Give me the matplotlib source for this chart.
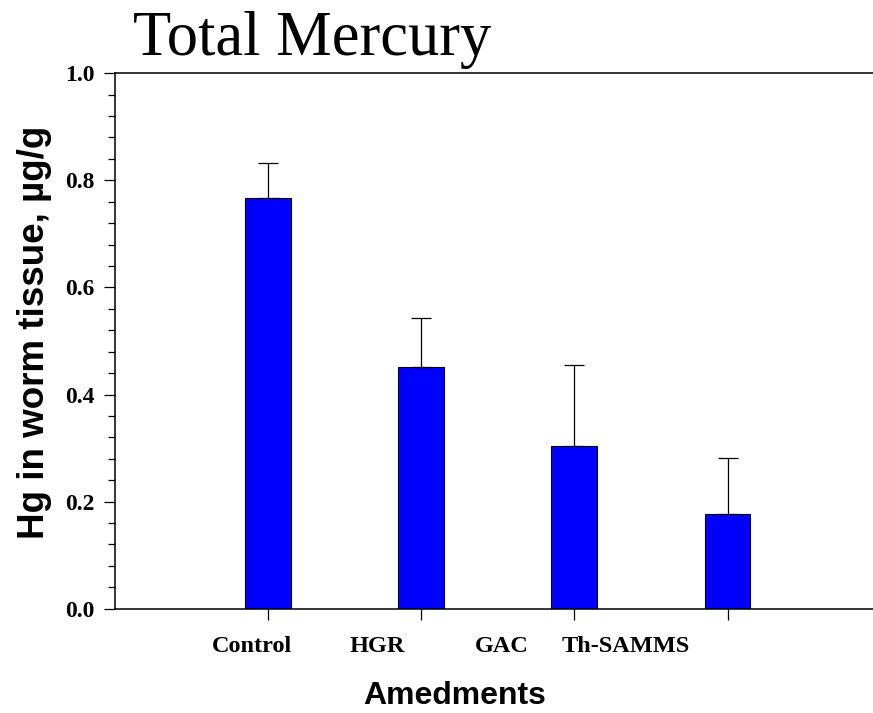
import numpy as np
from matplotlib import pyplot as plt
from matplotlib.ticker import MultipleLocator, AutoMinorLocator, FormatStrFormatter

# values
categories = ["Control", "HGR", "GAC", "Th-SAMMS"]
hg_means = [0.767, 0.451, 0.304, 0.176]
hg_err = [0.066, 0.091, 0.151, 0.105]

x = np.arange(1, len(categories) + 1)
# labels in the original sit left of their ticks, drifting more to the right
label_x = 0.898 + 0.813 * np.arange(len(categories))

fig = plt.figure(figsize=(8.73, 7.13), dpi=100)
ax = fig.add_axes([0.1317, 0.1463, 0.8683, 0.751])

ax.bar(x, hg_means, width=0.30, color='#0000ff', edgecolor='black', linewidth=0.8, zorder=2)
ax.errorbar(x, hg_means, yerr=[np.zeros(len(hg_err)), hg_err], fmt='none',
            ecolor='black', elinewidth=0.9, capsize=7.5, capthick=0.9, zorder=3)

ax.set_xlim(0, 4.95)
ax.set_ylim(0, 1.0)

ax.spines['right'].set_visible(False)
for s in ['left', 'bottom', 'top']:
    ax.spines[s].set_linewidth(1.1)

# major x ticks at the bars, labels placed as minor ticks with no mark
ax.set_xticks(x)
ax.set_xticklabels([])
ax.set_xticks(label_x, labels=categories, minor=True)
ax.tick_params(axis='x', which='major', direction='out', length=8, width=0.9)
ax.tick_params(axis='x', which='minor', length=0, pad=20)
for lab in ax.get_xticklabels(minor=True):
    lab.set_fontfamily('Liberation Serif')
    lab.set_fontweight('bold')
    lab.set_fontsize(17.5)

ax.yaxis.set_major_locator(MultipleLocator(0.2))
ax.yaxis.set_minor_locator(AutoMinorLocator(5))
ax.yaxis.set_major_formatter(FormatStrFormatter('%.1f'))
ax.tick_params(axis='y', which='major', direction='out', length=8, width=0.9, pad=7)
ax.tick_params(axis='y', which='minor', direction='out', length=5, width=0.9)
for lab in ax.get_yticklabels():
    lab.set_fontfamily('Liberation Serif')
    lab.set_fontweight('bold')
    lab.set_fontsize(17)

fig.text(133 / 873, 1 - 55 / 713, "Total Mercury", fontfamily='Liberation Serif',
         fontsize=45, ha='left', va='baseline')
fig.text(35 / 873, 1 - 332 / 713, "Hg in worm tissue, µg/g", fontfamily='Liberation Sans',
         fontweight='bold', fontsize=26.5, rotation=90, ha='center', va='center')
fig.text(454.5 / 873, 1.5 / 713, "Amedments", fontfamily='Liberation Sans',
         fontweight='bold', fontsize=23, ha='center', va='bottom')

fig.savefig("out.png", dpi=100)
